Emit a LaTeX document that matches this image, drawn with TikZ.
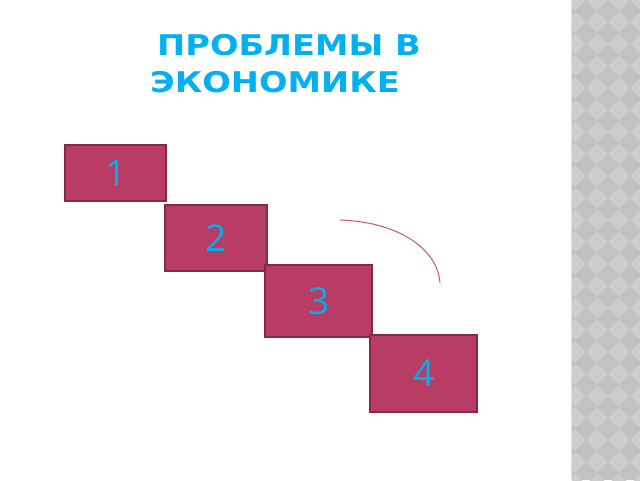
\documentclass[tikz,border=0pt]{standalone}
\usepackage{fontspec}
\setmainfont{DejaVu Sans}
\newfontfamily\digitfont{Open Sans}
\newfontfamily\titlefont[FakeStretch=1.18]{DejaVu Sans Bold}
\definecolor{boxfill}{HTML}{B93C65}
\definecolor{boxline}{HTML}{862848}
\definecolor{txtcyan}{HTML}{00B0F0}
\definecolor{arccol}{HTML}{C4557E}
\definecolor{stripbg}{HTML}{C1C1C1}
\definecolor{stripdia}{HTML}{CDCDCD}
\tikzset{
  numbox/.style={draw=boxline, line width=2.4pt, fill=boxfill, inner sep=0pt, anchor=north west,
    font=\digitfont\fontsize{37}{37}\selectfont, text=txtcyan},
  titletext/.style={font=\titlefont\fontsize{28.5}{28.5}\selectfont, text=txtcyan, inner sep=0pt, anchor=base west}
}
\begin{document}
\begin{tikzpicture}[x=1pt,y=-1pt]
\useasboundingbox (0,0) rectangle (640,480);
\fill[white] (0,0) rectangle (640,480);
% right decorative strip
\fill[stripbg] (571,0) rectangle (640,480);
\begin{scope}
\clip (572,0) rectangle (640,480);
\foreach \i in {0,...,4} {
  \foreach \j in {0,...,22} {
    \pgfmathsetmacro{\cx}{575+22*\i}
    \pgfmathsetmacro{\cy}{22*\j}
    \fill[stripdia] (\cx,\cy-10.6) -- (\cx+10.6,\cy) -- (\cx,\cy+10.6) -- (\cx-10.6,\cy) -- cycle;
  }
}
\end{scope}
\draw[white!88!black, line width=1pt] (571.5,0) -- (571.5,480);
% title
\node[titletext] (t1) at (157,55) {ПРОБЛЕМЫ В};
\node[titletext] (t2) at (150,92) {ЭКОНОМИКЕ};
% boxes
\node[numbox, minimum width=101pt, minimum height=56pt] (b1) at (64,144) {1};
\node[numbox, minimum width=102pt, minimum height=66pt] (b2) at (164,204) {2};
\node[numbox, minimum width=107pt, minimum height=72pt] (b3) at (264,264) {3};
\node[numbox, minimum width=107pt, minimum height=77pt] (b4) at (369,334) {4};
% arc
\coordinate (a1) at (340,220);
\coordinate (a2) at (440,283);
\draw[arccol, line width=1pt] (a1) .. controls (400,222) and (438,250) .. (a2);
\end{tikzpicture}
\end{document}
